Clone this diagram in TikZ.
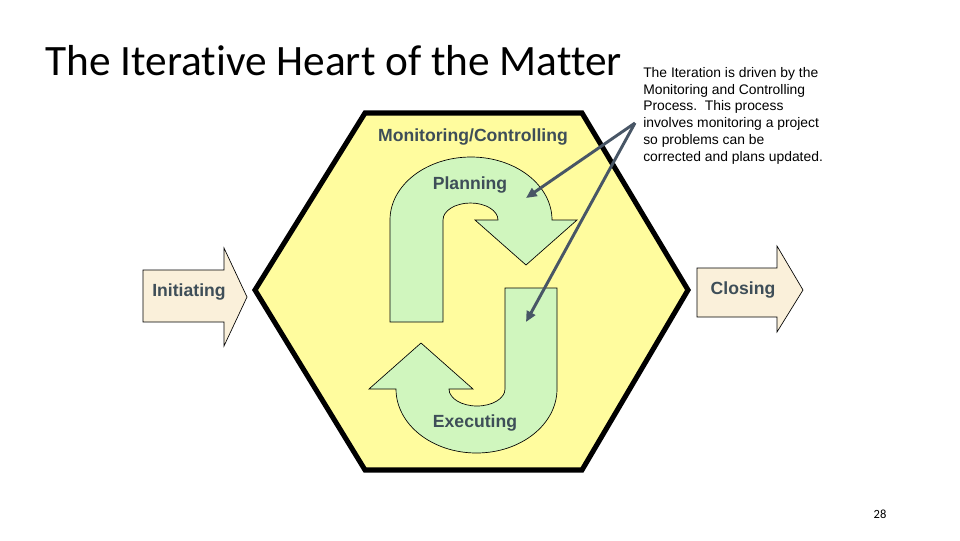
\documentclass[tikz,border=0pt]{standalone}
\usepackage{fontspec}
\setmainfont{Liberation Sans}
\newfontfamily\slidefont[Ligatures=NoCommon]{Carlito}
\usetikzlibrary{arrows.meta}
\definecolor{hexyellow}{RGB}{255,252,158}
\definecolor{loopgreen}{RGB}{208,246,190}
\definecolor{phasebeige}{RGB}{250,240,218}
\definecolor{labelgray}{RGB}{62,78,88}
\definecolor{pointer}{RGB}{72,86,102}

\begin{document}
\begin{tikzpicture}[x=0.75pt, y=-0.75pt,
    phase/.style={draw=black, line width=0.5pt, fill=phasebeige},
    loop/.style={draw=black, line width=0.5pt, fill=loopgreen},
    label/.style={font=\fontsize{13.2}{15}\selectfont\bfseries, text=labelgray},
    pointerline/.style={draw=pointer, line width=2.2pt, -{Triangle[length=8pt, width=7pt]}}]
    \useasboundingbox (0,0) rectangle (960,540);
    % title
    \node[anchor=base west, inner sep=0pt, font=\slidefont\fontsize{32.5}{38}\selectfont] (title) at (45,75) {The Iterative Heart of the Matter};
    % the hexagon
    \draw[fill=hexyellow, line width=3.8pt, line join=miter] (365,113) -- (582,113) -- (688,290) -- (582,470) -- (365,470) -- (255,290) -- cycle;
    % initiating and closing arrows
    \draw[phase] (143,270) -- (224,270) -- (224,248) -- (247,297) -- (224,346) -- (224,322) -- (143,322) -- cycle;
    \draw[phase] (697,268) -- (777,268) -- (777,246) -- (803,290) -- (777,332) -- (777,317) -- (697,317) -- cycle;
    \node[label] (init) at (189,292) {Initiating};
    \node[label] (close) at (743,290) {Closing};
    % planning loop
    \draw[loop] (390,322) -- (390,220) arc[start angle=180, end angle=360, x radius=81, y radius=63]
        -- (577,220) -- (526,265) -- (475,220) -- (498,220)
        arc[start angle=0, end angle=-180, x radius=27.5, y radius=17] -- (443,322) -- cycle;
    % executing loop
    \draw[loop] (505,288) -- (557,288) -- (557,389) arc[start angle=0, end angle=180, x radius=80.5, y radius=64]
        -- (369,389) -- (421,343) -- (473,389) -- (449,389)
        arc[start angle=180, end angle=0, x radius=28, y radius=17] -- cycle;
    \node[label] (monitor) at (473,137) {Monitoring/Controlling};
    \node[label] (plan) at (470,185) {Planning};
    \node[label] (exec) at (475,423) {Executing};
    % callout
    \node[anchor=north west, inner sep=0pt, align=left, font=\fontsize{10.4}{12.6}\selectfont] (note) at (643,67)
        {The Iteration is driven by the\\ Monitoring and Controlling\\ Process.\ \ This process\\ involves monitoring a project\\ so problems can be\\ corrected and plans updated.};
    \coordinate (from) at (635,123);
    \coordinate (planpt) at (526,198);
    \coordinate (execpt) at (526,322);
    \draw[pointerline] (from) -- (planpt);
    \draw[pointerline] (from) -- (execpt);
    % slide number
    \node[font=\slidefont\fontsize{9.4}{11}\selectfont] (num) at (880,514) {28};
\end{tikzpicture}
\end{document}
